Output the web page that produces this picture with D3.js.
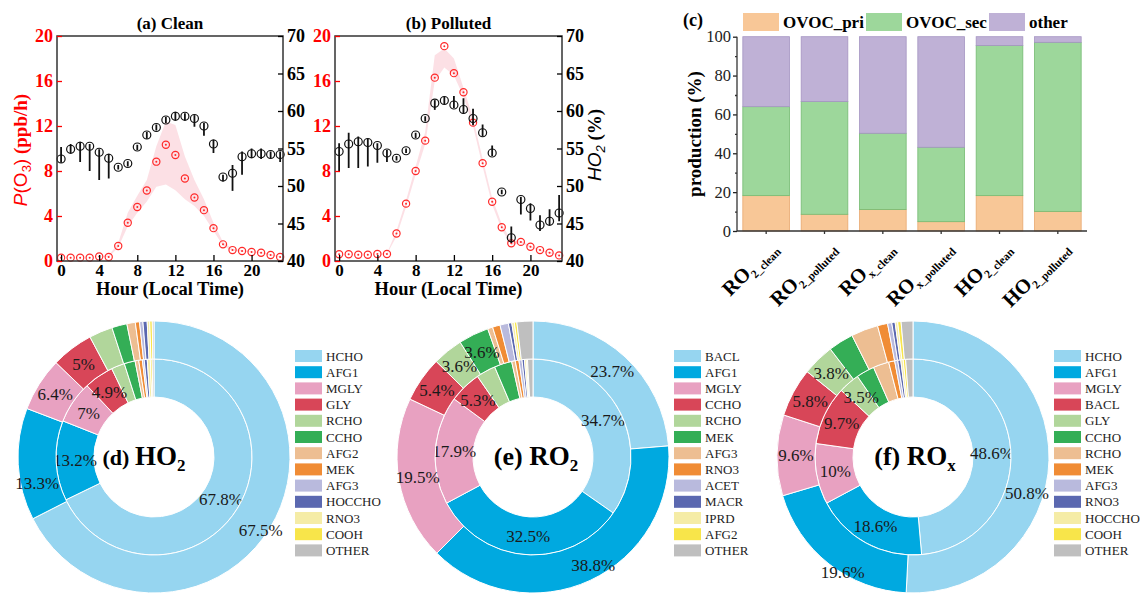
<!DOCTYPE html>
<html>
<head>
<meta charset="utf-8">
<script src="https://cdn.jsdelivr.net/npm/d3@7"></script>
<style>
  body { margin: 0; background: #fff; }
  svg { display: block; }
</style>
</head>
<body>
<script>
// ---------------- data ----------------
var hours = d3.range(0, 24);

// (a) clean : P(O3) in ppb/h and HO2 share in %
var cleanPO3   = [0.3,0.3,0.3,0.3,0.4,0.35,1.33,3.4,4.8,6.26,8.83,10.34,9.42,7.33,5.64,4.52,2.92,1.48,0.97,0.89,0.8,0.74,0.53,0.35];
var cleanPO3Hi = [0.3,0.3,0.3,0.3,0.4,0.5,1.6,4.3,5.8,7.2,10.2,12.4,12.1,9.3,7.2,5.5,3.4,1.7,1.1,0.95,0.85,0.8,0.6,0.4];
var cleanPO3Lo = [0.3,0.3,0.3,0.3,0.4,0.35,1.2,3.1,4.3,5.3,6.6,6.8,6.3,5.5,4.9,4.0,2.7,1.35,0.9,0.85,0.78,0.7,0.5,0.33];
var cleanHO2   = [53.6,54.9,55.3,55.3,54.5,53.7,52.5,53.0,55.2,56.8,57.8,58.8,59.3,59.3,59.0,58.0,55.6,51.2,51.7,53.9,54.3,54.3,54.2,54.2];
var cleanHO2Up = [1.6,0.7,0.6,0.3,0.4,0.6,0.3,0.3,0.3,0.4,0.4,0.4,0.6,0.4,0.45,0.4,0.6,0.3,1.1,0.7,0.7,0.7,0.4,0.4];
var cleanHO2Dn = [0.5,0.6,2.1,3.3,3.7,2.7,0.3,0.4,0.4,0.5,0.4,0.4,0.6,0.6,1.1,1.3,1.2,0.6,2.35,2.4,0.6,0.7,0.5,1.0];

// (b) polluted
var pollPO3   = [0.6,0.6,0.56,0.56,0.62,0.62,2.45,5.1,8.0,10.7,16.3,19.1,16.7,15.0,12.3,8.7,5.26,3.0,1.57,1.7,1.27,0.97,0.74,0.5];
var pollPO3Hi = [0.6,0.6,0.56,0.56,0.62,0.7,2.7,5.4,8.4,11.5,18.3,18.9,18.0,15.4,12.7,9.1,5.6,3.3,1.8,1.8,1.35,1.0,0.8,0.55];
var pollPO3Lo = [0.6,0.6,0.56,0.56,0.62,0.6,2.2,4.8,7.7,10.4,16.0,17.2,16.5,14.6,12.0,8.4,5.0,2.8,1.4,1.6,1.2,0.9,0.7,0.45];
var pollHO2   = [54.6,55.6,55.9,55.8,55.4,54.4,53.7,54.7,56.8,59.0,61.05,61.4,60.8,60.2,59.0,57.1,54.4,49.2,43.1,48.2,47.0,44.8,45.3,46.4];
var pollHO2Up = [1.1,1.5,0.7,0.5,0.3,0.4,0.3,0.3,0.3,0.3,0.4,0.5,1.2,1.5,1.3,1.1,1.0,0.3,1.5,0.35,0.7,1.3,1.6,2.4];
var pollHO2Dn = [2.6,3.2,3.5,3.2,2.3,1.2,0.3,0.3,0.4,0.4,0.9,0.5,0.4,0.6,0.9,0.5,0.4,0.3,0.7,2.0,1.6,0.8,0.6,1.1];

var hourTicks = [0, 4, 8, 12, 16, 20];
var po3Ticks = [0, 4, 8, 12, 16, 20];
var ho2Ticks = [40, 45, 50, 55, 60, 65, 70];

// (c) production shares (%)
var barCats = ["RO2_clean", "RO2_polluted", "ROx_clean", "ROx_polluted", "HO2_clean", "HO2_polluted"];
var ovocPri = [18.2, 8.6, 11.1, 4.8, 18.2, 10.1];
var ovocSec = [45.8, 58.0, 39.2, 38.3, 77.3, 87.0];
var otherSh = [36.0, 33.4, 49.7, 56.9, 4.5, 2.9];
var barKeys = ["OVOC_pri", "OVOC_sec", "other"];
var barColors = ["#f8c797", "#9dd79b", "#bfb1d6"];
var barStroke = ["#e8a870", "#74bb72", "#a595c2"];

// (d)-(f) donuts : inner and outer ring (%)
var hoSpecies = ["HCHO","AFG1","MGLY","GLY","RCHO","CCHO","AFG2","MEK","AFG3","HOCCHO","RNO3","COOH","OTHER"];
var hoOuter   = [67.5,13.3,6.4,5.0,2.8,1.8,1.0,0.5,0.4,0.5,0.3,0.3,0.2];
var hoInner   = [67.8,13.2,7.0,4.9,2.2,1.8,0.6,0.6,0.3,0.5,0.5,0.3,0.3];

var ro2Species = ["BACL","AFG1","MGLY","CCHO","RCHO","MEK","AFG3","RNO3","ACET","MACR","IPRD","AFG2","OTHER"];
var ro2Outer   = [23.7,38.8,19.5,5.4,3.6,3.6,0.6,0.9,1.0,0.4,0.3,0.3,1.9];
var ro2Inner   = [34.7,32.5,17.9,5.3,3.2,2.9,0.6,0.6,0.5,0.4,0.3,0.2,0.9];

var roxSpecies = ["HCHO","AFG1","MGLY","BACL","GLY","CCHO","RCHO","MEK","AFG3","RNO3","HOCCHO","COOH","OTHER"];
var roxOuter   = [50.8,19.6,9.6,5.8,3.8,3.0,3.2,1.2,0.5,0.4,0.3,0.4,1.4];
var roxInner   = [48.6,18.6,10.0,9.7,3.5,3.0,2.6,1.0,0.5,0.5,0.4,0.4,1.2];

var donutPalette = ["#96d5f0","#00a9e0","#e8a1c1","#d84658","#b1d69b","#34ae56","#edbe92",
                    "#f08c35","#b9badd","#5b68b0","#f5eca6","#f8e54a","#bfbfbf"];

// ---------------- layout ----------------
var W = 1142, H = 593;
var SERIF = "'Liberation Serif','Times New Roman',serif";
var SANS = "'Liberation Sans',Arial,sans-serif";

var svg = d3.select("body").append("svg")
    .attr("width", W).attr("height", H)
    .style("font-family", SERIF);

function styleAxis(sel, color, size, bold) {
  sel.attr("font-family", SERIF).attr("font-size", size).attr("color", color);
  sel.select(".domain").remove();
  sel.selectAll("text").attr("font-weight", bold ? "bold" : "normal");
  sel.selectAll("line").attr("stroke-width", 1.3);
}

/* ---------- (a) / (b) diurnal panels ---------- */
var topY = 36, botY = 261;

function diurnal(cfg) {
  var g = svg.append("g");
  var x = d3.scaleLinear().domain([-0.43, 23.3]).range([cfg.left, cfg.right]);
  var yL = d3.scaleLinear().domain([0, 20]).range([botY, topY]);
  var yR = d3.scaleLinear().domain([40, 70]).range([botY, topY]);

  // pink uncertainty band of P(O3)
  g.append("path").datum(hours)
    .attr("d", d3.area()
      .x(function(h) { return x(h); })
      .y0(function(h) { return yL(cfg.lo[h]); })
      .y1(function(h) { return yL(cfg.hi[h]); }))
    .attr("fill", "#fbd6dc").attr("fill-opacity", 0.75);

  // P(O3) markers
  g.selectAll(".po3").data(hours).enter().append("circle")
    .attr("cx", function(h) { return x(h); })
    .attr("cy", function(h) { return yL(cfg.po3[h]); })
    .attr("r", 3.6).attr("fill", "none").attr("stroke", "#ff2a2a").attr("stroke-width", 1.2);
  g.selectAll(".po3d").data(hours).enter().append("circle")
    .attr("cx", function(h) { return x(h); })
    .attr("cy", function(h) { return yL(cfg.po3[h]); })
    .attr("r", 1).attr("fill", "#ff2a2a");

  // HO2 error bars + markers
  g.selectAll(".eb").data(hours).enter().append("line")
    .attr("x1", function(h) { return x(h); }).attr("x2", function(h) { return x(h); })
    .attr("y1", function(h) { return yR(cfg.ho2[h] + cfg.up[h]); })
    .attr("y2", function(h) { return yR(cfg.ho2[h] - cfg.dn[h]); })
    .attr("stroke", "#111").attr("stroke-width", 1.8);
  g.selectAll(".ho2").data(hours).enter().append("circle")
    .attr("cx", function(h) { return x(h); })
    .attr("cy", function(h) { return yR(cfg.ho2[h]); })
    .attr("r", 4).attr("fill", "none").attr("stroke", "#111").attr("stroke-width", 1.2);

  // frame
  g.append("rect")
    .attr("x", cfg.left).attr("y", topY)
    .attr("width", cfg.right - cfg.left).attr("height", botY - topY)
    .attr("fill", "none").attr("stroke", "#333").attr("stroke-width", 1.5);

  // axes (ticks pointing inward)
  g.append("g").attr("transform", "translate(0," + botY + ")")
    .call(d3.axisBottom(x).tickValues(hourTicks).tickSize(-6).tickPadding(3).tickFormat(d3.format("d")))
    .call(styleAxis, "#000", 17, true);
  g.append("g").attr("transform", "translate(" + cfg.left + ",0)")
    .call(d3.axisLeft(yL).tickValues(po3Ticks).tickSize(-5).tickPadding(4))
    .call(styleAxis, "#ff0000", 18, true);
  g.append("g").attr("transform", "translate(" + cfg.right + ",0)")
    .call(d3.axisRight(yR).tickValues(ho2Ticks).tickSize(-5).tickPadding(4))
    .call(styleAxis, "#000", 18, true);

  var cx = (cfg.left + cfg.right) / 2;
  g.append("text").attr("x", cx).attr("y", 29).attr("text-anchor", "middle")
    .attr("font-size", 17).attr("font-weight", "bold").text(cfg.title);
  g.append("text").attr("x", cx).attr("y", 295).attr("text-anchor", "middle")
    .attr("font-size", 18.5).attr("font-weight", "bold").text("Hour (Local Time)");
}

diurnal({ left: 57, right: 283, title: "(a) Clean",
  po3: cleanPO3, hi: cleanPO3Hi, lo: cleanPO3Lo, ho2: cleanHO2, up: cleanHO2Up, dn: cleanHO2Dn });
diurnal({ left: 335, right: 562, title: "(b) Polluted",
  po3: pollPO3, hi: pollPO3Hi, lo: pollPO3Lo, ho2: pollHO2, up: pollHO2Up, dn: pollHO2Dn });

// left axis title P(O3) (ppb/h)
var lt = svg.append("text").attr("transform", "translate(27,150) rotate(-90)")
  .attr("text-anchor", "middle").attr("fill", "#ff0000").attr("font-size", 19);
lt.append("tspan").attr("font-family", SANS).attr("font-style", "italic").text("P");
lt.append("tspan").attr("font-family", SANS).text("(O");
lt.append("tspan").attr("font-family", SANS).attr("font-size", 13).attr("dy", 4).text("3");
lt.append("tspan").attr("font-family", SANS).attr("dy", -4).text(")");
lt.append("tspan").attr("font-weight", "bold").text(" (ppb/h)");

// right axis title HO2 (%)
var rt = svg.append("text").attr("transform", "translate(601,145) rotate(-90)")
  .attr("text-anchor", "middle").attr("fill", "#000").attr("font-size", 19);
rt.append("tspan").attr("font-family", SANS).attr("font-style", "italic").text("HO");
rt.append("tspan").attr("font-family", SANS).attr("font-style", "italic").attr("font-size", 13).attr("dy", 4).text("2");
rt.append("tspan").attr("font-weight", "bold").attr("dy", -4).text(" (%)");

/* ---------- (c) stacked bars ---------- */
var barRows = barCats.map(function(c, i) {
  return { cat: c, OVOC_pri: ovocPri[i], OVOC_sec: ovocSec[i], other: otherSh[i] };
});
var bx = d3.scaleBand().domain(barCats).range([737, 1087]).paddingInner(0.2).paddingOuter(0.1);
var by = d3.scaleLinear().domain([0, 100]).range([231, 36.7]);
var stack = d3.stack().keys(barKeys)(barRows);

var gc = svg.append("g");
stack.forEach(function(layer, k) {
  gc.selectAll(null).data(layer).enter().append("rect")
    .attr("x", function(d) { return bx(d.data.cat); })
    .attr("width", bx.bandwidth())
    .attr("y", function(d) { return by(d[1]); })
    .attr("height", function(d) { return by(d[0]) - by(d[1]); })
    .attr("fill", barColors[k]).attr("stroke", barStroke[k]).attr("stroke-width", 0.8);
});

// y axis with minor ticks
gc.append("g").attr("transform", "translate(737,0)")
  .call(d3.axisLeft(by).tickValues(d3.range(10, 100, 20)).tickSize(2).tickFormat(""))
  .call(styleAxis, "#333", 16, false);
gc.append("g").attr("transform", "translate(737,0)")
  .call(d3.axisLeft(by).tickValues(d3.range(0, 101, 20)).tickSize(4).tickPadding(2))
  .call(styleAxis, "#222", 16.5, false);
gc.append("line").attr("x1", 737).attr("x2", 737).attr("y1", 36.7).attr("y2", 231)
  .attr("stroke", "#333").attr("stroke-width", 1.3);
// x axis
gc.append("g").attr("transform", "translate(0,231)")
  .call(d3.axisBottom(bx).tickSize(3).tickFormat(""))
  .call(styleAxis, "#333", 16, false);
gc.append("line").attr("x1", 737).attr("x2", 1087).attr("y1", 231).attr("y2", 231)
  .attr("stroke", "#333").attr("stroke-width", 1.3);

// rotated category labels: "RO" + subscript "2_clean"
barCats.forEach(function(c) {
  var t = gc.append("text")
    .attr("transform", "translate(" + (bx(c) + bx.bandwidth() / 2 + 12) + ",249) rotate(-45)")
    .attr("text-anchor", "end").attr("font-weight", "bold").attr("font-size", 20.5);
  t.append("tspan").text(c.slice(0, 2));
  t.append("tspan").attr("font-size", 11.5).attr("dy", 5).text(c.slice(2));
});

gc.append("text").attr("transform", "translate(701,134) rotate(-90)")
  .attr("text-anchor", "middle").attr("font-size", 19).attr("font-weight", "bold").text("production (%)");
gc.append("text").attr("x", 683).attr("y", 26).attr("font-size", 18).attr("font-weight", "bold").text("(c)");

// legend
barKeys.forEach(function(k, i) {
  var lx = 743 + i * 123;
  gc.append("rect").attr("x", lx).attr("y", 13).attr("width", 36).attr("height", 18).attr("fill", barColors[i]);
  gc.append("text").attr("x", lx + 40).attr("y", 28).attr("font-size", 17).attr("font-weight", "bold").text(k);
});

/* ---------- (d)-(f) nested donuts ---------- */
var donutCY = 457;
var rHole = 60, rMid = 98, rOut = 136;
// hand placement of a few labels, as in the original figure
var labelNudge = {
  "d|outer|0": [7, 12], "d|outer|1": [0, 20],
  "e|outer|1": [11, 2],
  "f|outer|0": [-3, 33], "f|outer|1": [2, 23]
};

function donut(cfg) {
  var g = svg.append("g").attr("transform", "translate(" + cfg.cx + "," + donutCY + ")");
  var pie = d3.pie().sort(null).value(function(d) { return d; });
  var rings = [
    { name: "inner", vals: cfg.inner, r0: rHole, r1: rMid },
    { name: "outer", vals: cfg.outer, r0: rMid, r1: rOut }
  ];
  rings.forEach(function(ring) {
    var arc = d3.arc().innerRadius(ring.r0).outerRadius(ring.r1);
    var arcs = pie(ring.vals);
    g.selectAll(null).data(arcs).enter().append("path")
      .attr("d", arc)
      .attr("fill", function(d, i) { return donutPalette[i]; })
      .attr("stroke", "#fff").attr("stroke-width", 1);
    arcs.forEach(function(a, i) {
      if (a.data < 3.5) return;
      var c = arc.centroid(a);
      var n = labelNudge[cfg.id + "|" + ring.name + "|" + i] || [0, 0];
      g.append("text").attr("x", c[0] + n[0]).attr("y", c[1] + n[1]).attr("dy", "0.35em")
        .attr("text-anchor", "middle").attr("font-size", 17).attr("fill", "#1a1a1a")
        .text(a.data + "%");
    });
  });

  // centre title
  var t = g.append("text").attr("x", cfg.titleDx).attr("y", 8).attr("text-anchor", "middle")
    .attr("font-weight", "bold");
  t.append("tspan").attr("font-size", cfg.tagSize).text(cfg.tag + " ");
  t.append("tspan").attr("font-size", 27).text(cfg.main);
  t.append("tspan").attr("font-size", 17).attr("dy", 6).text(cfg.sub);

  // legend
  var lg = g.append("g");
  cfg.species.forEach(function(s, i) {
    var yy = -101 + i * 16.2;
    lg.append("rect").attr("x", 141).attr("y", yy - 6).attr("width", 27).attr("height", 12)
      .attr("fill", donutPalette[i]);
    lg.append("text").attr("x", 172).attr("y", yy).attr("dy", "0.35em")
      .attr("font-size", 13).attr("fill", "#222").text(s);
  });
}

donut({ id: "d", cx: 154, inner: hoInner, outer: hoOuter, species: hoSpecies,
  tag: "(d)", tagSize: 22, main: "HO", sub: "2", titleDx: -10 });
donut({ id: "e", cx: 533, inner: ro2Inner, outer: ro2Outer, species: ro2Species,
  tag: "(e)", tagSize: 26, main: "RO", sub: "2", titleDx: 3 });
donut({ id: "f", cx: 913, inner: roxInner, outer: roxOuter, species: roxSpecies,
  tag: "(f)", tagSize: 26, main: "RO", sub: "x", titleDx: 2 });
</script>
</body>
</html>
